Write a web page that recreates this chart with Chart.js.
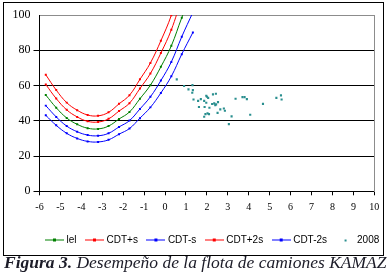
<!DOCTYPE html>
<html lang="es">
<head>
<meta charset="utf-8">
<script src="https://cdn.jsdelivr.net/npm/chart.js@4.4.0/dist/chart.umd.min.js"></script>
<style>
  html, body { margin: 0; padding: 0; background: #fff; }
  body { width: 388px; height: 277px; position: relative; overflow: hidden; }
  #grafico { position: absolute; left: 0; top: 0; }
  #marco { position: absolute; left: 3px; top: 2px; width: 381px; height: 254px; border: 1.5px solid #000; box-sizing: border-box; pointer-events: none; }
  #pie { position: absolute; left: 4px; top: 254px; font: italic 17.5px/17px 'Liberation Serif', serif; color: #1c1c28; white-space: nowrap; }
</style>
</head>
<body>
<canvas id="grafico" width="400" height="255"></canvas>
<div id="marco"></div>
<div id="pie"><b>Figura 3.</b> Desempeño de la flota de camiones KAMAZ</div>
<script>
// --- Datos ---
const xCurva = [-5.7, -5.2, -4.7, -4.2, -3.7, -3.2, -2.7, -2.2, -1.7, -1.2, -0.7, -0.2, 0.3, 0.8, 1.33];
const lel = [54.6, 47.4, 41.6, 38.0, 35.8, 35.4, 37.0, 41.0, 45.0, 52.5, 60.2, 70.6, 82.5, 98.5, 114.0];
const cdtMasS = [60.6, 52.6, 46.2, 42.2, 39.7, 39.3, 41.1, 45.5, 50.0, 58.3, 66.8, 78.4, 91.6, 109.3, 126.5];
const cdtMenosS = [48.6, 42.2, 37.0, 33.8, 31.9, 31.5, 32.9, 36.5, 40.1, 46.7, 53.6, 62.8, 73.4, 87.7, 101.5];
const cdtMas2s = [66.1, 57.4, 50.3, 46.0, 43.3, 42.8, 44.8, 49.6, 54.5, 63.5, 72.8, 85.4, 99.8, 119.2, 137.9];
const cdtMenos2s = [43.1, 37.4, 32.9, 30.0, 28.3, 28.0, 29.2, 32.4, 35.6, 41.5, 47.6, 55.8, 65.2, 77.8, 90.1];

// puntos del 2008
const x2008 = [0.56, 0.91, 1.31, 1.12, 1.33, 1.30, 1.36, 1.58, 1.71, 1.87,
               1.97, 2.00, 2.06, 1.97, 2.29, 2.43, 1.62, 1.89, 2.12, 2.25,
               2.35, 2.44, 2.53, 2.40, 2.64, 2.51, 2.81, 2.86, 2.03, 1.93,
               2.10, 1.87, 3.18, 3.05, 3.37, 3.70, 3.80, 3.91, 4.07, 4.68,
               5.32, 5.54, 5.57];
const y2008 = [63.5, 59.7, 60.2, 57.8, 57.4, 55.9, 52.1, 51.3, 52.3, 51.3,
               54.2, 53.6, 53.0, 50.2, 55.0, 55.3, 47.8, 47.8, 47.4, 49.5,
               49.9, 49.3, 50.6, 48.9, 46.5, 44.5, 47.0, 45.7, 44.2, 43.8,
               43.8, 42.3, 42.5, 38.1, 52.5, 53.4, 53.4, 52.3, 43.4, 49.6,
               53.0, 54.4, 52.1];

const VERDE = '#008000';
const ROJO = '#ff0000';
const AZUL = '#0000ff';
const TEAL = '#2a8f8f';

// --- Iconos de la leyenda (linea con marcador) ---
function iconoLinea(color) {
    const c = document.createElement('canvas');
    c.width = 19; c.height = 5;
    const g = c.getContext('2d');
    g.fillStyle = color;
    g.fillRect(0, 2, 19, 1);
    g.fillRect(8, 1, 3, 3);
    return c;
}
function iconoPunto(color) {
    const c = document.createElement('canvas');
    c.width = 19; c.height = 5;
    const g = c.getContext('2d');
    g.fillStyle = color;
    g.fillRect(9, 2, 2, 2);
    return c;
}

function serieLinea(label, ys, color) {
    return {
        label: label,
        data: xCurva.map((x, i) => ({ x: x, y: ys[i] })),
        showLine: true,
        borderColor: color,
        backgroundColor: color,
        borderWidth: 1,
        tension: 0.4,
        pointStyle: 'rect',
        pointRadius: 1.4,
        pointBorderWidth: 0,
        icono: iconoLinea(color)
    };
}

const datasets = [
    serieLinea('lel', lel, VERDE),
    serieLinea('CDT+s', cdtMasS, ROJO),
    serieLinea('CDT-s', cdtMenosS, AZUL),
    serieLinea('CDT+2s', cdtMas2s, ROJO),
    serieLinea('CDT-2s', cdtMenos2s, AZUL),
    {
        label: '2008',
        data: x2008.map((x, i) => ({ x: x, y: y2008[i] })),
        showLine: false,
        backgroundColor: TEAL,
        borderColor: TEAL,
        pointStyle: 'rect',
        pointRadius: 1.5,
        pointBorderWidth: 0,
        icono: iconoPunto(TEAL)
    }
];

Chart.defaults.font.family = "'Liberation Sans', Arial, sans-serif";
Chart.defaults.color = '#000';

new Chart(document.getElementById('grafico'), {
    type: 'scatter',
    data: { datasets: datasets },
    options: {
        responsive: false,
        animation: false,
        devicePixelRatio: 1,
        layout: { padding: { left: 11.5, right: 9.7, top: 15, bottom: 0 } },
        plugins: {
            tooltip: { enabled: false },
            legend: {
                position: 'bottom',
                align: 'end',
                labels: {
                    usePointStyle: true,
                    pointStyleWidth: 14,
                    padding: 11,
                    font: { size: 10 },
                    color: '#000',
                    generateLabels: (chart) => chart.data.datasets.map((ds, i) => ({
                        text: ds.label,
                        pointStyle: ds.icono,
                        datasetIndex: i,
                        fillStyle: 'transparent',
                        strokeStyle: 'transparent',
                        lineWidth: 0,
                        hidden: false,
                        fontColor: '#000'
                    }))
                }
            }
        },
        scales: {
            x: {
                type: 'linear',
                min: -6,
                max: 10,
                ticks: { stepSize: 1, padding: 6.4, color: '#000', font: { family: "'Liberation Serif', serif", size: 10 } },
                grid: { drawOnChartArea: false, drawTicks: true, tickLength: 4, tickColor: '#000' },
                border: { color: '#000', width: 1 },
                afterFit: (s) => { s.height = 32.7; }
            },
            y: {
                min: 0,
                max: 100,
                ticks: { stepSize: 20, padding: 3, color: '#000', font: { family: "'Liberation Serif', serif", size: 12 } },
                grid: {
                    color: (c) => (c.tick && c.tick.value === 100) ? '#8c8c8c' : '#000',
                    tickColor: (c) => (c.tick && c.tick.value === 100) ? 'rgba(0,0,0,0)' : '#000',
                    tickLength: 6
                },
                border: { color: '#000', width: 1 },
                afterFit: (s) => { s.width = 28; }
            },
            yDer: {
                position: 'right',
                min: 0,
                max: 100,
                ticks: { display: false },
                grid: { drawOnChartArea: false, drawTicks: false },
                border: { color: '#8c8c8c', width: 1 },
                afterFit: (s) => { s.width = 16; }
            }
        }
    }
});
</script>
</body>
</html>
